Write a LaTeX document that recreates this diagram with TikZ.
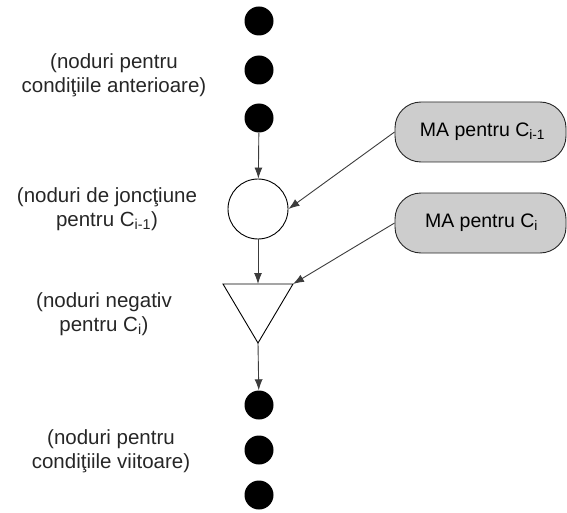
\documentclass[tikz,border=0pt]{standalone}
\usepackage{fontspec}
\setmainfont{Liberation Sans}
\usetikzlibrary{arrows.meta}
\definecolor{boxgray}{RGB}{205,205,205}
\definecolor{linegray}{RGB}{60,60,60}
\begin{document}
\begin{tikzpicture}[x=1pt,y=-1pt,
  dotnode/.style={circle,fill=black,minimum size=29pt,inner sep=0pt},
  joinnode/.style={circle,draw=black,line width=0.9pt,fill=white,minimum size=60pt,inner sep=0pt},
  mabox/.style={draw=black!85,line width=0.9pt,fill=boxgray,rounded corners=26pt,
    minimum width=171pt,minimum height=60pt,inner sep=0pt,font=\fontsize{19.5}{23}\selectfont},
  note/.style={align=center,font=\fontsize{20.5}{24.5}\selectfont,text=black!85},
  link/.style={draw=linegray,line width=0.9pt,-{Latex[length=11pt,width=8pt]}},
  every node/.append style={anchor=center}]
\useasboundingbox (0,0) rectangle (567,513);

% conditions before
\node[dotnode] (d1) at (259,21) {};
\node[dotnode] (d2) at (259,70) {};
\node[dotnode] (d3) at (259,118) {};

% join node and negative node
\node[joinnode] (join) at (258,209) {};
\coordinate (triL) at (223,284);
\coordinate (triR) at (293,284);
\coordinate (triT) at (258,284);
\coordinate (triA) at (258,343);
\draw[line width=0.9pt,fill=white] (triL) -- (triR) -- (triA) -- cycle;

% conditions after
\node[dotnode] (d4) at (259,405) {};
\node[dotnode] (d5) at (259,450) {};
\node[dotnode] (d6) at (259,495) {};

% memory boxes
\node[mabox] (ma1) at (480.5,132) {\hspace*{4pt}MA pentru C\textsubscript{i-1}};
\node[mabox] (ma2) at (480.5,223) {\hspace*{2pt}MA pentru C\textsubscript{i}};

% labels
\node[note] (n1) at (114,75) {(noduri pentru\\condiţiile anterioare)};
\node[note] (n2) at (107,209) {(noduri de joncţiune\\pentru C\textsubscript{i-1})};
\node[note] (n3) at (104,314) {(noduri negativ\\pentru C\textsubscript{i})};
\node[note] (n4) at (111,451) {(noduri pentru\\condiţiile viitoare)};

% connectors
\draw[link] (d3) -- (join);
\draw[link] (join) -- (triT);
\draw[link] (triA) -- (d4);
\draw[link] (ma1.west) -- (join.east);
\draw[link] (ma2.west) -- (triR);
\end{tikzpicture}
\end{document}
